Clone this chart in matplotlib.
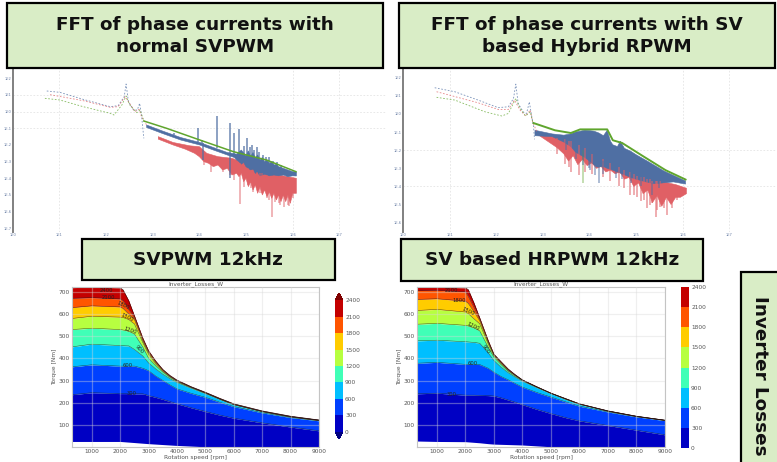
import numpy as np
import matplotlib
matplotlib.use('Agg')
import matplotlib.pyplot as plt
from matplotlib.cm import ScalarMappable
from matplotlib.colors import BoundaryNorm, ListedColormap
from matplotlib.patches import Rectangle

W, H = 777, 462

# FFT panels, all values are log10 of frequency / amplitude
# left panel (normal SVPWM)
l_blue_low_x = [0.73, 1.01, 1.51, 2.09, 2.26, 2.39, 2.43, 2.48, 2.59, 2.67, 2.72, 2.76, 2.81]
l_blue_low_y = [1.24, 1.16, 0.74, 0.30, 0.36, 0.90, 1.66, 0.60, 0.10, 0.10, 0.50, -0.20, -1.60]
l_red_low_x = [0.80, 1.51, 2.09, 2.26, 2.41, 2.48, 2.62, 2.71, 2.76, 2.87]
l_red_low_y = [1.02, 0.66, 0.26, 0.30, 0.90, 0.60, 0.00, 0.14, -0.30, -0.80]
l_green_low_x = [0.69, 1.01, 1.51, 2.09, 2.17, 2.34, 2.43, 2.51, 2.66, 2.73, 2.81]
l_green_low_y = [0.80, 0.70, 0.30, -0.10, -0.20, 0.40, 0.94, 0.40, -0.06, 0.10, -0.54]

l_green_top_x = [2.81, 3.30, 4.01, 4.73, 5.44, 6.07]
l_green_top_y = [-0.56, -1.00, -1.70, -2.40, -2.90, -3.60]
l_blue_up_x = [2.87, 3.2, 3.6, 4.01, 4.3, 4.6, 4.8, 4.9, 5.0, 5.05, 5.1, 5.15, 5.2, 5.25, 5.3, 5.35,
               5.4, 5.45, 5.5, 5.55, 5.6, 5.65, 5.7, 5.8, 5.9, 6.0, 6.08]
l_blue_up_y = [-0.8, -1.15, -1.55, -1.85, -2.15, -2.45, -2.55, -2.3, -2.65, -2.35, -2.7, -2.45, -2.8, -2.6,
               -2.9, -2.75, -3.0, -2.9, -3.1, -3.0, -3.2, -3.15, -3.3, -3.4, -3.5, -3.6, -3.62]
l_blue_lo_x = [2.87, 3.2, 3.6, 4.01, 4.3, 4.6, 4.75, 4.8, 4.85, 4.9, 4.95, 5.0, 5.05, 5.1, 5.15, 5.2,
               5.25, 5.3, 5.4, 5.5, 5.6, 5.7, 5.8, 5.9, 6.0, 6.08]
l_blue_lo_y = [-0.95, -1.3, -1.7, -2.0, -2.3, -2.6, -2.75, -2.9, -3.0, -3.15, -3.05, -3.3, -3.4, -3.5, -3.45,
               -3.7, -3.65, -3.85, -3.75, -3.85, -3.8, -3.85, -3.8, -3.9, -3.85, -3.86]
l_red_up_x = [3.12, 3.44, 3.8, 4.0, 4.16, 4.4, 4.7, 4.9, 5.3, 5.7, 6.08]
l_red_up_y = [-1.5, -1.85, -2.05, -2.1, -2.5, -2.7, -2.8, -3.0, -3.4, -3.8, -4.0]
l_red_lo_x = [3.12, 3.44, 3.7, 3.9, 4.0, 4.1, 4.2, 4.3, 4.4, 4.5, 4.6, 4.7, 4.8, 4.85, 4.9, 4.95, 5.0, 5.05,
              5.1, 5.15, 5.2, 5.25, 5.3, 5.35, 5.4, 5.45, 5.5, 5.55, 5.6, 5.65, 5.7, 5.75, 5.8, 5.85, 5.9,
              5.95, 6.0, 6.08]
l_red_lo_y = [-1.65, -2.0, -2.25, -2.5, -2.7, -3.0, -3.1, -3.3, -3.2, -3.5, -3.4, -3.8, -3.7, -3.9, -3.7, -4.2,
              -4.0, -4.5, -4.2, -4.7, -4.4, -4.9, -4.5, -5.0, -4.7, -5.1, -4.8, -5.2, -4.9, -5.3, -5.0, -5.4,
              -5.0, -5.4, -5.0, -5.5, -4.9, -4.9]

l_blue_spike_x = [3.46, 3.97, 4.05, 4.38, 4.66, 4.75, 4.84, 5.03, 5.12, 5.23, 5.37, 5.49, 4.66, 4.07,
                  4.95, 5.08, 5.18, 5.28, 5.42, 5.58, 5.66, 5.75]
l_blue_spike_a = [-1.26, -1.00, -1.70, -0.26, -0.70, -1.26, -1.06, -1.60, -2.00, -2.14, -2.60, -2.70, -4.00, -2.90,
                  -2.05, -2.10, -2.30, -2.40, -2.75, -2.95, -3.05, -3.20]
l_blue_spike_b = [-1.40, -1.80, -1.90, -2.20, -2.50, -2.60, -2.70, -2.80, -2.90, -2.90, -3.00, -3.10, -2.50, -1.90,
                  -2.80, -2.90, -3.00, -3.00, -3.10, -3.20, -3.30, -3.40]
l_red_spike_x = [4.25, 4.41, 4.66, 4.87, 5.05, 5.14, 5.23, 5.34, 5.44, 5.55, 5.62, 5.73, 5.81, 5.93, 6.01,
                 4.1, 4.5, 4.75, 4.95, 5.1, 5.3, 5.5, 5.7, 5.9]
l_red_spike_a = [-3.6, -3.2, -3.8, -5.54, -4.4, -4.8, -4.6, -4.9, -5.2, -6.3, -5.4, -5.6, -5.74, -5.66, -5.2,
                 -3.2, -3.6, -4.1, -4.5, -4.6, -4.9, -5.3, -5.5, -5.6]
l_red_spike_b = [-2.6, -2.8, -2.9, -3.1, -3.4, -3.5, -3.6, -3.7, -3.8, -3.9, -3.9, -4.0, -4.0, -4.1, -4.1,
                 -2.5, -2.8, -3.0, -3.3, -3.5, -3.7, -3.9, -4.0, -4.1]

# right panel (SV based hybrid RPWM)
r_blue_low_x = [0.68, 1.11, 1.61, 2.04, 2.26, 2.37, 2.42, 2.47, 2.58, 2.65, 2.71, 2.75, 2.80, 2.82]
r_blue_low_y = [1.45, 1.23, 0.77, 0.35, 0.40, 0.86, 1.65, 0.58, 0.11, 0.03, 0.67, 0.03, -0.70, -1.40]
r_red_low_x = [0.72, 1.61, 2.04, 2.26, 2.39, 2.51, 2.63, 2.73, 2.78, 2.87]
r_red_low_y = [1.23, 0.62, 0.25, 0.25, 0.77, 0.22, -0.11, 0.22, -0.43, -0.98]
r_green_low_x = [0.72, 1.11, 1.76, 2.12, 2.26, 2.42, 2.51, 2.63, 2.73, 2.78]
r_green_low_y = [0.92, 0.77, 0.12, -0.11, 0.03, 0.86, 0.31, -0.11, 0.12, -0.43]

r_green_top_x = [2.80, 3.26, 3.6, 3.8, 4.1, 4.38, 4.5, 4.7, 5.13, 5.63, 6.06]
r_green_top_y = [-0.5, -0.9, -1.05, -0.85, -0.85, -0.85, -1.45, -1.6, -2.3, -3.1, -3.62]
r_blue_up_x = [2.83, 3.2, 3.45, 3.6, 3.7, 3.8, 3.9, 4.0, 4.1, 4.2, 4.3, 4.38, 4.45, 4.5, 4.6, 4.66, 4.75,
               4.88, 5.0, 5.24, 5.6, 5.85, 6.06]
r_blue_up_y = [-0.9, -1.1, -1.17, -1.1, -1.0, -0.95, -0.9, -0.92, -0.95, -1.05, -1.2, -0.9, -1.5, -1.7, -1.8,
               -1.5, -1.9, -2.05, -2.25, -2.6, -3.15, -3.45, -3.7]
r_blue_lo_x = [2.83, 3.2, 3.45, 3.6, 3.7, 3.81, 3.9, 4.0, 4.16, 4.3, 4.38, 4.5, 4.7, 4.88, 5.0, 5.24, 5.4,
               5.6, 5.8, 6.06]
r_blue_lo_y = [-1.2, -1.25, -1.55, -1.8, -2.1, -2.27, -2.4, -2.6, -2.93, -2.9, -3.0, -3.1, -3.3, -3.5, -3.6,
               -3.77, -3.85, -3.8, -3.75, -3.87]
r_red_up_x = [2.87, 3.45, 3.8, 4.5, 5.0, 5.4, 5.6, 5.85, 6.08]
r_red_up_y = [-1.0, -1.4, -1.6, -2.5, -3.3, -3.7, -3.76, -3.9, -4.1]
r_red_lo_x = [2.87, 3.1, 3.3, 3.45, 3.55, 3.65, 3.75, 3.85, 3.95, 4.05, 4.15, 4.25, 4.35, 4.45, 4.55, 4.65,
              4.75, 4.85, 4.95, 5.05, 5.15, 5.25, 5.35, 5.45, 5.55, 5.65, 5.75, 5.85, 5.95, 6.08]
r_red_lo_y = [-1.1, -1.5, -1.85, -2.2, -2.6, -2.3, -2.8, -2.5, -2.85, -2.7, -3.0, -2.9, -3.2, -3.1, -3.3, -3.2,
              -3.6, -3.5, -4.0, -3.8, -4.4, -4.2, -4.9, -4.5, -5.1, -4.6, -5.0, -4.6, -4.6, -4.4]

r_red_spike_x = [3.48, 3.61, 3.77, 4.63, 4.86, 5.02, 5.17, 5.24, 5.33, 5.42, 5.52, 5.67, 5.88,
                 3.3, 3.55, 3.9, 4.05, 4.3, 4.45, 4.75, 4.95, 5.1, 5.3, 5.45, 5.6, 5.78]
r_red_spike_a = [-2.76, -3.18, -3.37, -3.97, -4.47, -4.56, -4.75, -5.2, -4.93, -5.7, -5.11, -5.57, -4.75,
                 -2.2, -2.9, -3.2, -3.3, -3.5, -3.7, -4.1, -4.5, -4.8, -5.0, -5.3, -5.2, -5.2]
r_red_spike_b = [-1.4, -1.5, -1.7, -2.9, -3.2, -3.4, -3.5, -3.6, -3.7, -3.7, -3.7, -3.8, -3.9,
                 -1.3, -1.5, -1.9, -2.2, -2.5, -2.7, -3.1, -3.3, -3.5, -3.6, -3.7, -3.8, -3.9]
r_blue_spike_x = [3.98, 4.12, 4.21, 4.56, 5.34, 3.5, 3.7, 3.85, 4.0, 4.3, 4.7, 4.9, 5.1, 5.5]
r_blue_spike_a = [-3.0, -3.37, -3.79, -3.55, -4.47, -2.0, -2.5, -2.8, -3.1, -3.3, -3.6, -3.8, -4.0, -4.1]
r_blue_spike_b = [-2.2, -2.4, -2.8, -3.0, -3.8, -1.3, -1.5, -1.8, -2.2, -2.6, -3.0, -3.2, -3.4, -3.7]
r_green_spike_x = [3.86]
r_green_spike_a = [-3.79]
r_green_spike_b = [-2.0]

fft_x_exp = [0, 1, 2, 3, 4, 5, 6, 7]
l_y_exp = [2, 1, 0, -1, -2, -3, -4, -5, -6, -7]
r_y_exp = [2, 1, 0, -1, -2, -3, -4, -5, -6]

# loss maps: torque of each level boundary vs speed
levels = [0, 300, 600, 900, 1200, 1500, 1800, 2100, 2400]
speed = [300, 1000, 2000, 2100, 2300, 2500, 2800, 3000, 3250, 3500, 3750, 4000, 4500, 5000, 5500, 6000, 7000, 8000, 9000]

l_bottom = [25, 25, 25, 24, 22, 20, 17, 15, 13, 11, 9, 7, 4, 1, 0, 0, 0, 0, 0]
l_300 = [236, 245, 241, 241, 241, 240, 240, 232, 224, 215, 205, 195, 177, 160, 144, 130, 109, 90, 73]
l_600 = [362, 371, 365, 365, 365, 365, 355, 344, 320, 300, 280, 262, 242, 224, 202, 182, 154, 133, 118]
l_900 = [452, 464, 458, 457, 456, 440, 410, 379, 352, 328, 308, 291, 265, 241, 215, 190, 159, 135, 119]
l_1200 = [530, 536, 530, 528, 522, 510, 450, 400, 367, 338, 314, 295, 268, 243, 216, 191, 160, 136, 120]
l_1500 = [580, 590, 586, 584, 575, 555, 470, 418, 375, 342, 317, 297, 269, 244, 217, 192, 160, 137, 121]
l_1800 = [629, 637, 632, 625, 600, 575, 478, 425, 381, 346, 319, 299, 270, 245, 218, 193, 161, 137, 121]
l_2100 = [671, 674, 668, 660, 620, 585, 483, 430, 385, 348, 321, 300, 271, 246, 219, 194, 162, 138, 121]
l_2400 = [719, 722, 718, 709, 660, 592, 490, 434, 388, 350, 323, 302, 272, 247, 220, 195, 163, 139, 122]

r_bottom = [27, 25, 24, 23, 21, 19, 15, 13, 12, 11, 10, 9, 5, 1, 0, 0, 0, 0, 0]
r_300 = [240, 243, 234, 234, 234, 233, 232, 230, 222, 212, 202, 191, 170, 151, 133, 118, 97, 76, 55]
r_600 = [378, 382, 373, 373, 373, 372, 355, 337, 318, 303, 286, 270, 246, 225, 204, 184, 158, 136, 119]
r_900 = [479, 482, 475, 474, 472, 468, 425, 390, 360, 335, 315, 297, 268, 241, 215, 192, 161, 137, 120]
r_1200 = [554, 558, 549, 546, 537, 524, 450, 405, 372, 342, 320, 300, 270, 242, 217, 193, 162, 138, 120]
r_1500 = [616, 621, 609, 602, 578, 556, 465, 412, 377, 345, 322, 301, 271, 242, 218, 194, 162, 138, 120]
r_1800 = [666, 669, 658, 648, 610, 570, 472, 415, 380, 348, 324, 302, 272, 243, 218, 194, 162, 138, 121]
r_2100 = [706, 707, 700, 680, 630, 578, 476, 417, 383, 350, 325, 302, 272, 243, 219, 195, 163, 139, 121]
r_2400 = [722, 722, 718, 710, 650, 583, 480, 419, 385, 352, 326, 303, 272, 243, 219, 195, 163, 139, 121]

l_label_x = [1500, 1590, 2110, 2230, 2350, 2680, 2270, 2400]
l_label_y = [705, 675, 637, 585, 527, 439, 367, 242]
l_label_txt = ['2400', '2100', '1800', '1500', '1200', '900', '600', '300']
l_label_rot = [0, 0, -25, -25, -18, -45, 0, 0]
r_label_x = [1500, 1770, 2110, 2260, 2700, 2240, 1500]
r_label_y = [706, 663, 613, 546, 442, 375, 237]
r_label_txt = ['2100', '1800', '1500', '1200', '900', '600', '300']
r_label_rot = [0, 0, -25, -25, -55, 0, 0]

map_colors = ['#0000c4', '#0040ff', '#00bfff', '#40ffb7', '#b7ff40', '#ffcc00', '#ff5500', '#c40000']
BLUE, RED, GREEN = '#4f6fa3', '#e06065', '#5fa52d'
GRAY = '#555555'
BOX_FILL = '#d9edc6'


def px_axes(fig, x0, y0, x1, y1):
    # pixel box, y measured from the top of the picture
    return fig.add_axes([x0 / W, 1 - y1 / H, (x1 - x0) / W, (y1 - y0) / H])


def title_box(fig, x0, y0, x1, y1):
    fig.add_artist(Rectangle((x0 / W, 1 - y1 / H), (x1 - x0) / W, (y1 - y0) / H,
                             transform=fig.transFigure, facecolor=BOX_FILL,
                             edgecolor='black', linewidth=1.6, zorder=5))


def box_text(fig, x, y, txt, size, **kw):
    fig.text(x / W, 1 - y / H, txt, ha='center', va='center', fontsize=size,
             fontweight='bold', color='#111111', zorder=6, **kw)


def band(ax, up_x, up_y, lo_x, lo_y, color, alpha=1.0):
    xs = 10.0 ** np.array(list(up_x) + list(lo_x)[::-1])
    ys = 10.0 ** np.array(list(up_y) + list(lo_y)[::-1])
    ax.fill(xs, ys, color=color, alpha=alpha, linewidth=0.4)


def spikes(ax, x, a, b, color, alpha=0.6):
    ax.vlines(10.0 ** np.array(x), 10.0 ** np.array(a), 10.0 ** np.array(b),
              color=color, alpha=alpha, linewidth=1.3)


def fft_axes(ax, xlim, ylim, y_exp, grid_x, grid_y):
    ax.set_xscale('log')
    ax.set_yscale('log')
    ax.set_xlim(10.0 ** xlim[0], 10.0 ** xlim[1])
    ax.set_ylim(10.0 ** ylim[0], 10.0 ** ylim[1])
    ax.set_xticks([10.0 ** e for e in fft_x_exp])
    ax.set_xticklabels(['1E%d' % e for e in fft_x_exp], fontsize=2.6, color='#6a7fa5')
    ax.set_yticks([10.0 ** e for e in y_exp])
    ax.set_yticklabels(['1E%d' % e for e in y_exp], fontsize=2.6, color='#6a7fa5')
    ax.minorticks_off()
    ax.tick_params(length=0, pad=1)
    for s in ['top', 'right', 'bottom']:
        ax.spines[s].set_visible(False)
    ax.spines['left'].set_color('#808080')
    ax.spines['left'].set_linewidth(1.4)
    for e in grid_x:
        ax.axvline(10.0 ** e, color='#e4e4e4', linestyle=(0, (2, 2)), linewidth=0.6, zorder=0)
    for e in grid_y:
        ax.axhline(10.0 ** e, color='#e4e4e4', linestyle=(0, (2, 2)), linewidth=0.6, zorder=0)


def low_line(ax, x, y, color):
    ax.plot(10.0 ** np.array(x), 10.0 ** np.array(y), color=color, linewidth=0.6,
            linestyle=(0, (2, 2)), alpha=0.75)


def loss_map(ax, curves, lab_x, lab_y, lab_txt, lab_rot):
    for i in range(len(map_colors)):
        ax.fill_between(speed, curves[i], curves[i + 1], color=map_colors[i], linewidth=0)
    for c in curves[1:-1]:
        ax.plot(speed, c, color='#222222', linewidth=0.35, alpha=0.8)
    ax.plot(speed, curves[-1], color='#300000', linewidth=0.4)
    ax.grid(True, color='#d8d8d8', linewidth=0.9, alpha=0.4)
    ax.set_axisbelow(False)
    ax.set_xlim(300, 9000)
    ax.set_ylim(0, 722)
    ax.set_xticks([1000, 2000, 3000, 4000, 5000, 6000, 7000, 8000, 9000])
    ax.set_yticks([100, 200, 300, 400, 500, 600, 700])
    ax.tick_params(labelsize=4.2, length=0, pad=1.5, labelcolor=GRAY)
    ax.set_xlabel('Rotation speed [rpm]', fontsize=4.2, labelpad=1, color=GRAY)
    ax.set_ylabel('Torque [Nm]', fontsize=4.2, labelpad=1, color=GRAY)
    ax.set_title('Inverter_Losses_W', fontsize=4.2, pad=1.5, color=GRAY)
    for s in ax.spines.values():
        s.set_color('#c4c4c4')
    for x, y, t, r in zip(lab_x, lab_y, lab_txt, lab_rot):
        ax.text(x, y, t, fontsize=3.8, color='#222222', rotation=r, ha='center', va='center')


def loss_bar(fig, cax, extend):
    cmap = ListedColormap(map_colors)
    cmap.set_under('#000080')
    cmap.set_over('#800000')
    norm = BoundaryNorm(levels, cmap.N, extend='neither')
    kw = {'extend': 'both', 'extendfrac': 0.055} if extend else {}
    cb = fig.colorbar(ScalarMappable(norm=norm, cmap=cmap), cax=cax, ticks=levels,
                      spacing='proportional', **kw)
    cb.ax.tick_params(labelsize=4.2, length=0, pad=1.5, labelcolor=GRAY)
    cb.outline.set_visible(False)


fig = plt.figure(figsize=(W / 100, H / 100), dpi=100, facecolor='white')

# FFT left
ax = px_axes(fig, 12.7, 68, 386, 232)
fft_axes(ax, (0, 8), (-7.22, 2.62), l_y_exp, [1, 6, 7], [1, 0, -1])
low_line(ax, l_blue_low_x, l_blue_low_y, BLUE)
low_line(ax, l_red_low_x, l_red_low_y, RED)
low_line(ax, l_green_low_x, l_green_low_y, GREEN)
spikes(ax, l_red_spike_x, l_red_spike_a, l_red_spike_b, RED, 0.5)
band(ax, l_red_up_x, l_red_up_y, l_red_lo_x, l_red_lo_y, RED)
spikes(ax, l_blue_spike_x, l_blue_spike_a, l_blue_spike_b, BLUE, 0.7)
ax.plot(10.0 ** np.array(l_green_top_x), 10.0 ** np.array(l_green_top_y), color=GREEN, linewidth=1.1)
band(ax, l_blue_up_x, l_blue_up_y, l_blue_lo_x, l_blue_lo_y, BLUE)

# FFT right
ax = px_axes(fig, 403, 68, 776, 231.7)
fft_axes(ax, (0, 8), (-6.5, 2.54), r_y_exp, [1, 6, 7], [-2, -4])
low_line(ax, r_blue_low_x, r_blue_low_y, BLUE)
low_line(ax, r_red_low_x, r_red_low_y, RED)
low_line(ax, r_green_low_x, r_green_low_y, GREEN)
spikes(ax, r_red_spike_x, r_red_spike_a, r_red_spike_b, RED, 0.55)
band(ax, r_red_up_x, r_red_up_y, r_red_lo_x, r_red_lo_y, RED)
spikes(ax, r_green_spike_x, r_green_spike_a, r_green_spike_b, GREEN, 0.4)
spikes(ax, r_blue_spike_x, r_blue_spike_a, r_blue_spike_b, BLUE, 0.5)
ax.plot(10.0 ** np.array(r_green_top_x), 10.0 ** np.array(r_green_top_y), color=GREEN, linewidth=1.4)
band(ax, r_blue_up_x, r_blue_up_y, r_blue_lo_x, r_blue_lo_y, BLUE)

# loss maps
ax = px_axes(fig, 72, 287, 319, 447)
loss_map(ax, [l_bottom, l_300, l_600, l_900, l_1200, l_1500, l_1800, l_2100, l_2400],
         l_label_x, l_label_y, l_label_txt, l_label_rot)
loss_bar(fig, px_axes(fig, 335, 293, 343, 439), True)

ax = px_axes(fig, 417, 287, 665, 447)
loss_map(ax, [r_bottom, r_300, r_600, r_900, r_1200, r_1500, r_1800, r_2100, r_2400],
         r_label_x, r_label_y, r_label_txt, r_label_rot)
loss_bar(fig, px_axes(fig, 681, 287, 689, 448), False)

# green title boxes
title_box(fig, 7, 3, 383, 68)
box_text(fig, 195, 25, 'FFT of phase currents with', 13.2)
box_text(fig, 195, 47, 'normal SVPWM', 13.2)
title_box(fig, 399, 3, 775, 68)
box_text(fig, 587, 25, 'FFT of phase currents with SV', 13.2)
box_text(fig, 587, 47, 'based Hybrid RPWM', 13.2)
title_box(fig, 82, 239, 335, 280)
box_text(fig, 208, 260, 'SVPWM 12kHz', 13.2)
title_box(fig, 401, 239, 703, 281)
box_text(fig, 552, 260, 'SV based HRPWM 12kHz', 13.2)
title_box(fig, 741, 272, 790, 475)
box_text(fig, 760, 376, 'Inverter Losses', 13.2, rotation=-90)

fig.savefig('out.png', dpi=100)
